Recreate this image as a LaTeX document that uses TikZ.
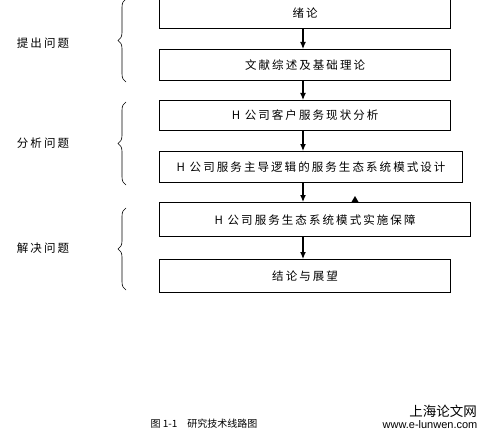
\documentclass[tikz,border=0pt]{standalone}
\usepackage{fontspec}
\setmainfont{Noto Sans CJK SC}
\newfontfamily\spaced{Noto Sans CJK SC}[LetterSpace=18]
\newfontfamily\latinsans{Liberation Sans}
\usetikzlibrary{arrows.meta,decorations.pathreplacing}

\begin{document}
\begin{tikzpicture}[x=1pt,y=-1pt,
    stage/.style={draw=black,line width=1.2pt,anchor=north west,minimum height=31pt,inner sep=0pt,font=\spaced\fontsize{11.5}{13}\selectfont},
    phase/.style={font=\spaced\fontsize{11.5}{13}\selectfont},
    grp/.style={decorate,decoration={brace,amplitude=8pt},line width=0.6pt},
    flow/.style={line width=1.2pt,-{Latex[length=7pt,width=6pt]}}]
    \useasboundingbox (0,0) rectangle (489,433);

    % stages
    \node (b1) at (159,-3) [stage,minimum width=291pt,minimum height=31pt] {绪论};
    \node (b2) at (159,49) [stage,minimum width=291pt] {文献综述及基础理论};
    \node (b3) at (159,100) [stage,minimum width=291pt,minimum height=30pt] {H 公司客户服务现状分析};
    \node (b4) at (159,151) [stage,minimum width=303pt] {H 公司服务主导逻辑的服务生态系统模式设计};
    \node (b5) at (159,202) [stage,minimum width=311pt,minimum height=34pt] {H 公司服务生态系统模式实施保障};
    \node (b6) at (159,259) [stage,minimum width=291pt,minimum height=33pt] {结论与展望};

    \coordinate (spine) at (303,0);
    \coordinate (mk) at (355,0);

    \draw[flow] (b1.south -| spine) -- (b2.north -| spine);
    \draw[flow] (b2.south -| spine) -- (b3.north -| spine);
    \draw[flow] (b3.south -| spine) -- (b4.north -| spine);
    \draw[flow] (b4.south -| spine) -- (b5.north -| spine);
    \draw[flow] (b5.south -| spine) -- (b6.north -| spine);
    \fill (b5.north -| mk) ++(-3.5,0) -- ++(7,0) -- ++(-3.5,-6) -- cycle;

    % phases
    \node (p1) at (43,43) [phase] {提出问题};
    \node (p2) at (43,143) [phase] {分析问题};
    \node (p3) at (43,248) [phase] {解决问题};

    \draw[grp] (126,82) -- (126,-1);
    \draw[grp] (126,185) -- (126,102);
    \draw[grp] (126,290) -- (126,208);

    % caption
    \node (cap) at (204,424) [font=\fontsize{10}{12}\selectfont] {图 1-1\quad 研究技术线路图};
    \node (wm) at (443,411) [font=\fontsize{13.5}{15}\selectfont] {上海论文网};
    \node (url) at (430,425) [font=\latinsans\fontsize{11}{13}\selectfont] {www.e-lunwen.com};
\end{tikzpicture}
\end{document}
